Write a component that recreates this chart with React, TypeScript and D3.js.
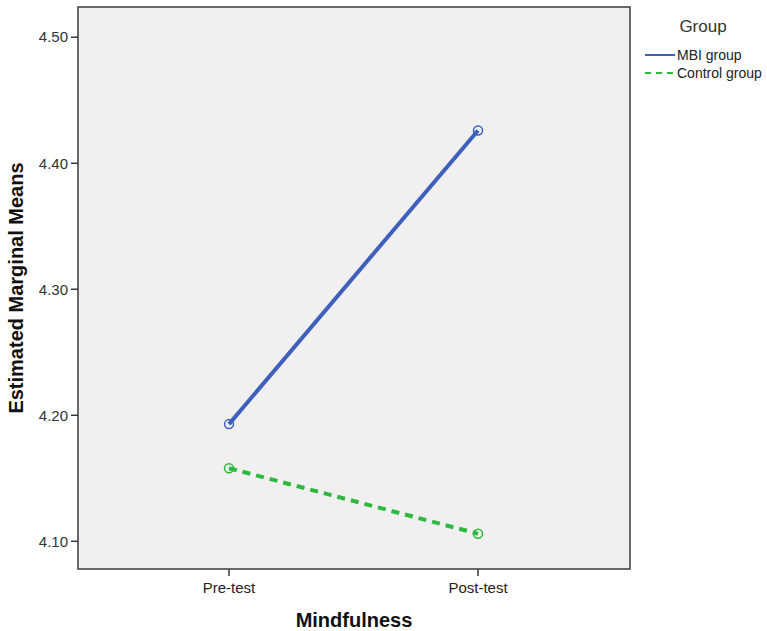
import React from "react";
import * as d3 from "d3";

const categories = ["Pre-test", "Post-test"];
const mbiValues = [4.193, 4.426];
const controlValues = [4.158, 4.106];
const yTicks = [4.1, 4.2, 4.3, 4.4, 4.5];
const seriesNames = ["MBI group", "Control group"];

const W = 767;
const H = 631;
const plot = { left: 78, top: 7, right: 630, bottom: 569 };

export default function App() {
  const x = d3
    .scalePoint<string>()
    .domain(categories)
    .range([229, 478]);
  const y = d3.scaleLinear().domain([4.078, 4.524]).range([plot.bottom, plot.top]);

  const line = d3
    .line<number>()
    .x((_, i) => x(categories[i]) as number)
    .y((d) => y(d));

  const series = [
    { name: seriesNames[0], values: mbiValues, color: "#3f5fbd", dash: undefined },
    { name: seriesNames[1], values: controlValues, color: "#2fb83f", dash: "8,6" },
  ];

  const font = "Arial, 'Liberation Sans', sans-serif";

  return (
    <svg
      width={W}
      height={H}
      style={{ position: "absolute", left: 0, top: 0, background: "#fff" }}
      fontFamily={font}
    >
      <rect
        x={plot.left}
        y={plot.top}
        width={plot.right - plot.left}
        height={plot.bottom - plot.top}
        fill="#f0f0f0"
        stroke="#3a3a3a"
        strokeWidth={1.5}
      />
      {yTicks.map((t) => (
        <g key={t} transform={`translate(0,${y(t)})`}>
          <line x1={plot.left - 7} x2={plot.left} stroke="#3a3a3a" strokeWidth={1.5} />
          <text x={plot.left - 10} dy="0.35em" textAnchor="end" fontSize={15} fill="#333">
            {t.toFixed(2)}
          </text>
        </g>
      ))}
      {categories.map((c) => (
        <g key={c} transform={`translate(${x(c)},${plot.bottom})`}>
          <line y1={0} y2={7} stroke="#3a3a3a" strokeWidth={1.5} />
          <text y={24} textAnchor="middle" fontSize={15} fill="#222">
            {c}
          </text>
        </g>
      ))}
      {series.map((s) => (
        <g key={s.name}>
          <path
            d={line(s.values) || ""}
            fill="none"
            stroke={s.color}
            strokeWidth={4}
            strokeDasharray={s.dash}
          />
          {s.values.map((v, i) => (
            <circle
              key={i}
              cx={x(categories[i])}
              cy={y(v)}
              r={4.5}
              fill="none"
              stroke={s.color}
              strokeWidth={1.5}
            />
          ))}
        </g>
      ))}
      <text
        transform={`translate(23,${(plot.top + plot.bottom) / 2}) rotate(-90)`}
        textAnchor="middle"
        fontSize={20}
        fontWeight="bold"
        fill="#111"
      >
        Estimated Marginal Means
      </text>
      <text x={354} y={627} textAnchor="middle" fontSize={20} fontWeight="bold" fill="#111">
        Mindfulness
      </text>
      <text x={703} y={32} textAnchor="middle" fontSize={17} fill="#333">
        Group
      </text>
      {series.map((s, i) => (
        <g key={s.name} transform={`translate(645,${55 + i * 18})`}>
          <line
            x1={0}
            x2={30}
            stroke={s.color}
            strokeWidth={2}
            strokeDasharray={s.dash ? "6,5" : undefined}
          />
          <text x={32} dy="0.35em" fontSize={14} fill="#222">
            {s.name}
          </text>
        </g>
      ))}
    </svg>
  );
}
